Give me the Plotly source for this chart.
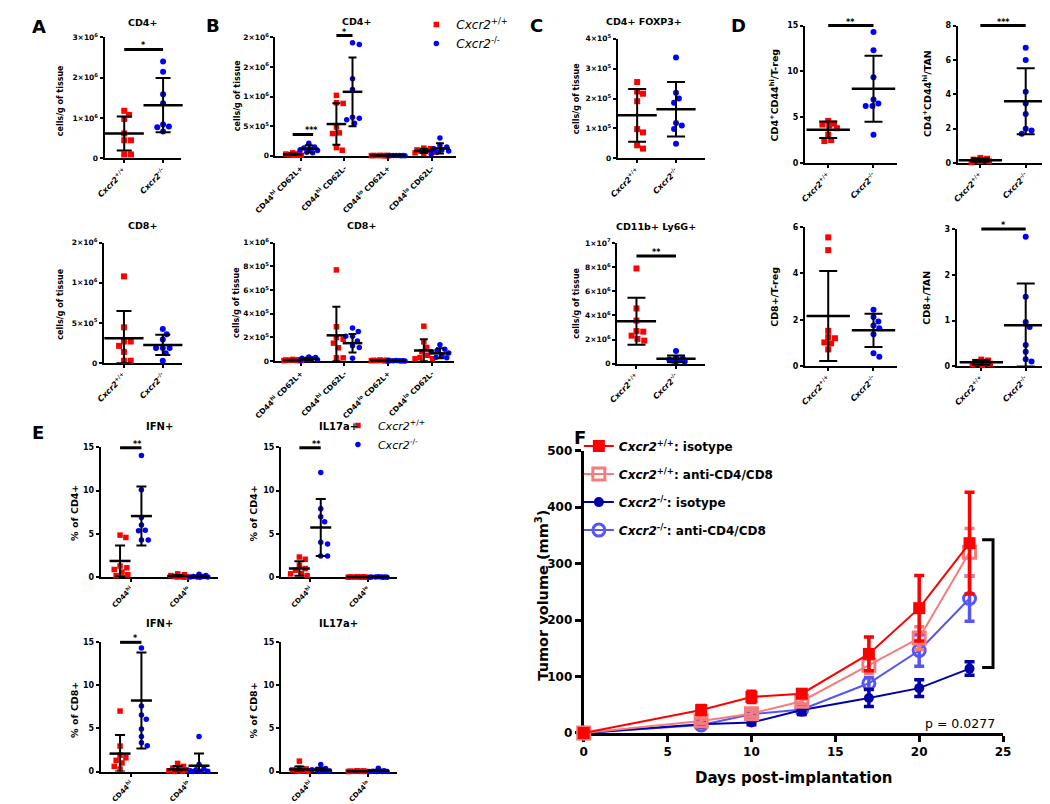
import plotly.graph_objects as go

# ======================= DATA =======================
GENOTYPES = ["<i>Cxcr2</i><sup>+/+</sup>", "<i>Cxcr2</i><sup>-/-</sup>"]
B_SUBSETS = ["CD44<sup>hi</sup> CD62L+", "CD44<sup>hi</sup> CD62L-",
             "CD44<sup>lo</sup> CD62L+", "CD44<sup>lo</sup> CD62L-"]
E_SUBSETS = ["CD44<sup>hi</sup>", "CD44<sup>lo</sup>"]

# Panel A (cells/g of tissue)
A_CD4_WT = [1.18, 1.08, 0.98, 0.62, 0.45, 0.45, 0.10, 0.10]      # x10^6
A_CD4_KO = [2.40, 2.15, 1.59, 1.37, 0.84, 0.79, 0.77, 0.67]
A_CD4_MEAN = [0.62, 1.32]
A_CD4_SD = [0.42, 0.67]
A_CD4_YT = [0, 1, 2, 3]
A_CD4_YL = ["0", "1×10<sup>6</sup>", "2×10<sup>6</sup>", "3×10<sup>6</sup>"]

A_CD8_WT = [10.8, 4.46, 2.69, 2.69, 2.15, 1.40, 0.30, 0.30]       # x10^5
A_CD8_KO = [4.26, 3.60, 2.93, 1.90, 1.90, 1.90, 1.24, 0.30]
A_CD8_MEAN = [3.10, 2.27]
A_CD8_SD = [3.40, 1.25]
A_CD8_YT = [0, 5, 10, 15]
A_CD8_YL = ["0", "5×10<sup>5</sup>", "1×10<sup>6</sup>", "2×10<sup>6</sup>"]

# Panel B (x10^5 cells/g), 4 subsets each
B_CD4_WT = [[0.50, 0.40, 0.30, 0.30, 0.20, 0.10, 0.10, 0.10],
            [10.2, 8.95, 8.84, 4.86, 3.87, 3.76, 1.38, 0.94],
            [0.06, 0.05, 0.05, 0.04, 0.04, 0.03, 0.03, 0.02],
            [1.30, 1.20, 1.00, 0.90, 0.80, 0.60, 0.50, 0.40]]
B_CD4_KO = [[2.10, 1.50, 1.30, 1.20, 1.00, 0.90, 0.60, 0.50],
            [19.06, 18.8, 13.0, 11.2, 6.50, 6.35, 6.10, 5.50],
            [0.05, 0.04, 0.04, 0.03, 0.03, 0.02, 0.02, 0.01],
            [3.00, 1.80, 1.50, 1.20, 1.00, 0.80, 0.60, 0.30]]
B_CD4_WT_MEAN = [0.25, 5.36, 0.04, 0.83]
B_CD4_WT_SD = [0.15, 3.50, 0.02, 0.35]
B_CD4_KO_MEAN = [1.20, 10.8, 0.03, 1.25]
B_CD4_KO_SD = [0.60, 5.80, 0.02, 0.85]
B_CD4_YT = [0, 5, 10, 15, 20]
B_CD4_YL = ["0", "5×10<sup>5</sup>", "1×10<sup>6</sup>", "2×10<sup>6</sup>", "2×10<sup>6</sup>"]

B_CD8_WT = [[0.15, 0.12, 0.10, 0.10, 0.08, 0.06, 0.05, 0.05],
            [7.70, 2.90, 2.00, 1.85, 1.52, 1.13, 0.28, 0.28],
            [0.10, 0.08, 0.07, 0.06, 0.05, 0.05, 0.04, 0.03],
            [2.95, 1.63, 1.16, 0.80, 0.50, 0.30, 0.20, 0.20]]
B_CD8_KO = [[0.35, 0.30, 0.25, 0.20, 0.15, 0.12, 0.10, 0.08],
            [2.80, 2.50, 2.10, 2.10, 1.70, 1.30, 1.16, 0.25],
            [0.05, 0.04, 0.04, 0.03, 0.03, 0.02, 0.02, 0.01],
            [1.38, 1.00, 0.90, 0.80, 0.69, 0.50, 0.33, 0.28]]
B_CD8_WT_MEAN = [0.08, 2.18, 0.06, 0.90]
B_CD8_WT_SD = [0.04, 2.42, 0.03, 0.95]
B_CD8_KO_MEAN = [0.18, 1.52, 0.03, 0.66]
B_CD8_KO_SD = [0.10, 0.78, 0.02, 0.42]
B_CD8_YT = [0, 2, 4, 6, 8, 10]
B_CD8_YL = ["0", "2×10<sup>5</sup>", "4×10<sup>5</sup>", "6×10<sup>5</sup>", "8×10<sup>5</sup>", "1×10<sup>6</sup>"]

# Panel C
C_FOXP3_WT = [2.55, 2.23, 2.16, 1.91, 0.98, 0.87, 0.44, 0.33]     # x10^5
C_FOXP3_KO = [3.37, 2.19, 2.00, 1.86, 1.18, 1.10, 0.98, 0.49]
C_FOXP3_MEAN = [1.44, 1.64]
C_FOXP3_SD = [0.88, 0.91]
C_FOXP3_YT = [0, 1, 2, 3, 4]
C_FOXP3_YL = ["0", "1×10<sup>5</sup>", "2×10<sup>5</sup>", "3×10<sup>5</sup>", "4×10<sup>5</sup>"]

C_LY6G_WT = [7.89, 4.58, 3.58, 2.71, 2.66, 2.33, 2.06, 1.92]      # x10^6
C_LY6G_KO = [1.06, 0.50, 0.45, 0.35, 0.30, 0.25, 0.20, 0.20]
C_LY6G_MEAN = [3.52, 0.41]
C_LY6G_SD = [1.95, 0.27]
C_LY6G_YT = [0, 2, 4, 6, 8, 10]
C_LY6G_YL = ["0", "2×10<sup>6</sup>", "4×10<sup>6</sup>", "6×10<sup>6</sup>", "8×10<sup>6</sup>", "1×10<sup>7</sup>"]

# Panel D (ratios)
D_TL_WT = [4.60, 4.30, 4.20, 4.10, 3.80, 3.10, 2.50, 2.40]
D_TL_KO = [14.3, 12.3, 9.36, 6.93, 6.50, 6.21, 6.21, 3.10]
D_TL_MEAN = [3.63, 8.10]
D_TL_SD = [0.90, 3.60]
D_TL_YT = [0, 5, 10, 15]

D_TR_WT = [0.30, 0.25, 0.20, 0.18, 0.15, 0.12, 0.10, 0.05]
D_TR_KO = [6.70, 6.00, 4.15, 3.47, 2.86, 2.00, 1.89, 1.71]
D_TR_MEAN = [0.17, 3.60]
D_TR_SD = [0.09, 1.92]
D_TR_YT = [0, 2, 4, 6, 8]

D_BL_WT = [5.55, 5.00, 1.52, 1.25, 1.20, 1.02, 0.98, 0.72]
D_BL_KO = [2.43, 2.12, 1.92, 1.75, 1.63, 1.37, 0.55, 0.40]
D_BL_MEAN = [2.16, 1.54]
D_BL_SD = [1.94, 0.72]
D_BL_YT = [0, 2, 4, 6]

D_BR_WT = [0.15, 0.13, 0.10, 0.09, 0.08, 0.06, 0.05, 0.03]
D_BR_KO = [2.83, 1.52, 0.97, 0.86, 0.47, 0.32, 0.16, 0.11]
D_BR_MEAN = [0.09, 0.90]
D_BR_SD = [0.05, 0.91]
D_BR_YT = [0, 1, 2, 3]

# Panel E (% of parent), subsets CD44hi / CD44lo
E_YT = [0, 5, 10, 15]
E_TL_WT = [[4.87, 4.60, 1.30, 1.10, 0.90, 0.60, 0.30, 0.20],
           [0.40, 0.30, 0.20, 0.10, 0.10, 0.05, 0.05, 0.02]]
E_TL_KO = [[14.06, 10.1, 6.90, 6.05, 5.44, 5.37, 4.30, 4.30],
           [0.35, 0.20, 0.10, 0.10, 0.05, 0.05, 0.03, 0.02]]
E_TL_WT_MEAN = [1.89, 0.15]
E_TL_WT_SD = [1.77, 0.12]
E_TL_KO_MEAN = [7.07, 0.11]
E_TL_KO_SD = [3.40, 0.10]

E_TR_WT = [[2.34, 2.08, 1.40, 1.02, 0.83, 0.45, 0.40, 0.20],
           [0.06, 0.05, 0.04, 0.03, 0.03, 0.02, 0.02, 0.01]]
E_TR_KO = [[12.1, 7.90, 7.00, 6.40, 4.04, 3.85, 2.46, 2.46],
           [0.06, 0.05, 0.04, 0.03, 0.03, 0.02, 0.02, 0.01]]
E_TR_WT_MEAN = [1.02, 0.03]
E_TR_WT_SD = [0.83, 0.02]
E_TR_KO_MEAN = [5.75, 0.03]
E_TR_KO_SD = [3.28, 0.02]

E_BL_WT = [[7.00, 2.95, 1.90, 1.60, 1.30, 1.00, 0.60, 0.30],
           [0.95, 0.60, 0.40, 0.30, 0.20, 0.10, 0.05, 0.02]]
E_BL_KO = [[14.3, 7.60, 6.55, 6.06, 4.92, 4.05, 3.33, 3.00],
           [4.05, 0.83, 0.30, 0.20, 0.10, 0.05, 0.03, 0.02]]
E_BL_WT_MEAN = [2.08, 0.25]
E_BL_WT_SD = [2.16, 0.40]
E_BL_KO_MEAN = [8.22, 0.68]
E_BL_KO_SD = [5.55, 1.40]

E_BR_WT = [[1.21, 0.40, 0.30, 0.20, 0.15, 0.10, 0.05, 0.02],
           [0.10, 0.08, 0.05, 0.05, 0.03, 0.02, 0.02, 0.01]]
E_BR_KO = [[0.83, 0.35, 0.25, 0.20, 0.10, 0.08, 0.05, 0.02],
           [0.38, 0.10, 0.05, 0.03, 0.02, 0.02, 0.01, 0.01]]
E_BR_WT_MEAN = [0.25, 0.04]
E_BR_WT_SD = [0.35, 0.03]
E_BR_KO_MEAN = [0.20, 0.08]
E_BR_KO_SD = [0.25, 0.12]

# Panel F (tumor volume, mm^3)
F_DAYS = [0, 7, 10, 13, 17, 20, 23]
F_WT_ISO = [0, 40.6, 63.8, 69.6, 140, 221, 336]
F_WT_ISO_ERR = [0, 8, 10, 6, 30, 58, 90]
F_WT_ANTI = [0, 21.4, 34.2, 56.2, 120, 168, 320]
F_WT_ANTI_ERR = [0, 5, 6, 5, 15, 20, 42]
F_KO_ISO = [0, 15.6, 18.5, 40.6, 62, 79.4, 114]
F_KO_ISO_ERR = [0, 4, 4, 8, 15, 15, 12]
F_KO_ANTI = [0, 14, 33, 41.7, 88, 146, 238]
F_KO_ANTI_ERR = [0, 4, 5, 5, 10, 28, 40]
F_NAMES = ["<i>Cxcr2</i><sup>+/+</sup>: isotype", "<i>Cxcr2</i><sup>+/+</sup>: anti-CD4/CD8",
           "<i>Cxcr2</i><sup>-/-</sup>: isotype", "<i>Cxcr2</i><sup>-/-</sup>: anti-CD4/CD8"]
F_XT = [0, 5, 10, 15, 20, 25]
F_YT = [0, 100, 200, 300, 400, 500]

# ======================= STYLE / LAYOUT =======================
W, H = 1050, 804
FONT = "DejaVu Sans, Verdana, sans-serif"
RED, BLUE = "#FF0000", "#0000FF"
F_COLORS = ["#FF0000", "#F47C7C", "#0000A8", "#5656F4"]
F_SYMBOLS = ["square", "square-open", "circle", "circle-open"]

fig = go.Figure()
L = dict(width=W, height=H, margin=dict(l=0, r=0, t=0, b=0),
         paper_bgcolor="white", plot_bgcolor="white", showlegend=True)
ANN, SHP = [], []
state = {"n": 0}


def bfont(size, **kw):
    d = dict(family=FONT, size=size, color="black", weight="bold")
    d.update(kw)
    return d


def axes(box, xrange, yrange, xtv, xtt, ytv, ytt, xfs=8, yfs=7.5, lw=2, tl=3, xangle=-45):
    state["n"] += 1
    n = state["n"]
    s = "" if n == 1 else str(n)
    xl, xr, yt, yb = box
    common = dict(showline=True, linecolor="black", linewidth=lw, ticks="outside",
                  ticklen=tl, tickwidth=lw, tickcolor="black", showgrid=False,
                  zeroline=False, fixedrange=True, layer="below traces", tickmode="array")
    L["xaxis" + s] = dict(domain=[xl / W, xr / W], range=xrange, anchor="y" + s,
                          tickvals=xtv, ticktext=xtt, tickangle=xangle, tickfont=bfont(xfs), **common)
    L["yaxis" + s] = dict(domain=[1 - yb / H, 1 - yt / H], range=yrange, anchor="x" + s,
                          tickvals=ytv, ticktext=ytt, tickfont=bfont(yfs), **common)
    return dict(xa="x" + s, ya="y" + s, xr=xrange, yr=yrange,
                kx=(xr - xl) / (xrange[1] - xrange[0]), ky=(yb - yt) / (yrange[1] - yrange[0]))


def cat_range(xl, xr, c0, unit):
    return [(xl - c0) / unit, (xr - c0) / unit]


def swarm(vals, ky, d=6.3, cap=9):
    order = sorted(range(len(vals)), key=lambda i: -vals[i])
    cands = sorted(range(-cap, cap + 1), key=lambda c: (abs(c), c < 0))
    placed, out = [], [0.0] * len(vals)
    for i in order:
        y = vals[i] * ky
        best, bestd = 0, -1.0
        for c in cands:
            md = min((((c - px) ** 2 + (y - py) ** 2) ** 0.5 for px, py in placed), default=1e9)
            if md >= d:
                best = c
                break
            if md > bestd:
                best, bestd = c, md
        placed.append((best, y))
        out[i] = best
    return out


def dot_panel(ax, wt_pos, ko_pos, wt_data, ko_data, wt_mean, wt_sd, ko_mean, ko_sd,
              msize=6, meanw=28, capw=7, legend=None):
    for pos, data, col, sym, name in ((wt_pos, wt_data, RED, "square", GENOTYPES[0]),
                                      (ko_pos, ko_data, BLUE, "circle", GENOTYPES[1])):
        xs, ys = [], []
        for p, vals in zip(pos, data):
            offs = swarm(vals, ax["ky"])
            xs += [p + o / ax["kx"] for o in offs]
            ys += list(vals)
        fig.add_trace(go.Scatter(x=xs, y=ys, mode="markers", name=name,
                                 marker=dict(symbol=sym, size=msize, color=col, line=dict(width=0)),
                                 xaxis=ax["xa"], yaxis=ax["ya"], cliponaxis=False,
                                 showlegend=legend is not None, legend=legend or "legend",
                                 hoverinfo="skip"))
    for pos, mean, sd in ((wt_pos, wt_mean, wt_sd), (ko_pos, ko_mean, ko_sd)):
        fig.add_trace(go.Scatter(x=pos, y=mean, mode="markers", showlegend=False,
                                 marker=dict(symbol="line-ew", size=meanw, color="black",
                                             line=dict(color="black", width=2.5)),
                                 error_y=dict(type="data", array=sd,
                                              arrayminus=[min(s, m) for s, m in zip(sd, mean)],
                                              color="black", thickness=2, width=capw),
                                 xaxis=ax["xa"], yaxis=ax["ya"], cliponaxis=False, hoverinfo="skip"))


def sig(ax, x0, x1, y, text, size=8):
    fx0 = (x0 - ax["xr"][0]) / (ax["xr"][1] - ax["xr"][0])
    fx1 = (x1 - ax["xr"][0]) / (ax["xr"][1] - ax["xr"][0])
    fy = (y - ax["yr"][0]) / (ax["yr"][1] - ax["yr"][0])
    xref, yref = ax["xa"] + " domain", ax["ya"] + " domain"
    SHP.append(dict(type="line", xref=xref, yref=yref, x0=fx0, x1=fx1, y0=fy, y1=fy,
                    line=dict(color="black", width=3)))
    ANN.append(dict(xref=xref, yref=yref, x=(fx0 + fx1) / 2, y=fy, text=text, showarrow=False,
                    yanchor="bottom", yshift=-3, font=bfont(size)))


def text(px, py, t, size, angle=0, **kw):
    ANN.append(dict(xref="paper", yref="paper", x=px / W, y=1 - py / H, text=t, showarrow=False,
                    textangle=angle, xanchor="center", yanchor="middle", font=bfont(size, **kw)))


def ystr(ticks):
    return [str(t) for t in ticks]


# ---------- Panel A ----------
ax = axes((76.7, 155, 22.7, 146), cat_range(76.7, 155, 97, 40), [0, 3],
          [0, 1], GENOTYPES, A_CD4_YT, A_CD4_YL)
dot_panel(ax, [0], [1], [A_CD4_WT], [A_CD4_KO], [A_CD4_MEAN[0]], [A_CD4_SD[0]],
          [A_CD4_MEAN[1]], [A_CD4_SD[1]], meanw=28, capw=7.5)
sig(ax, 0, 1, 2.7, "*")

ax = axes((76, 156.7, 231.7, 354.3), cat_range(76, 156.7, 96.7, 40), [0, 15],
          [0, 1], GENOTYPES, A_CD8_YT, A_CD8_YL)
dot_panel(ax, [0], [1], [A_CD8_WT], [A_CD8_KO], [A_CD8_MEAN[0]], [A_CD8_SD[0]],
          [A_CD8_MEAN[1]], [A_CD8_SD[1]], meanw=28, capw=7.5)

# ---------- Panel B ----------
BOFF = 8.3 / 45
B_WT_POS = [i - BOFF for i in range(4)]
B_KO_POS = [i + BOFF for i in range(4)]
ax = axes((252.7, 438.3, 22.7, 143.3), cat_range(252.7, 438.3, 278.7, 45), [0, 20],
          list(range(4)), B_SUBSETS, B_CD4_YT, B_CD4_YL, xfs=7.5)
dot_panel(ax, B_WT_POS, B_KO_POS, B_CD4_WT, B_CD4_KO, B_CD4_WT_MEAN, B_CD4_WT_SD,
          B_CD4_KO_MEAN, B_CD4_KO_SD, msize=5.5, meanw=14, capw=4, legend="legend")
sig(ax, B_WT_POS[0], B_KO_POS[0] + 0.1, 3.6, "***")
sig(ax, B_WT_POS[1], B_KO_POS[1], 20.3, "*")

ax = axes((252.7, 436.7, 231.7, 352.3), cat_range(252.7, 436.7, 278.7, 45), [0, 10],
          list(range(4)), B_SUBSETS, B_CD8_YT, B_CD8_YL, xfs=7.5)
dot_panel(ax, B_WT_POS, B_KO_POS, B_CD8_WT, B_CD8_KO, B_CD8_WT_MEAN, B_CD8_WT_SD,
          B_CD8_KO_MEAN, B_CD8_KO_SD, msize=5.5, meanw=14, capw=4)

# ---------- Panel C ----------
ax = axes((605, 695, 24, 146), cat_range(605, 695, 625, 40), [0, 4],
          [0, 1], GENOTYPES, C_FOXP3_YT, C_FOXP3_YL)
dot_panel(ax, [0], [1], [C_FOXP3_WT], [C_FOXP3_KO], [C_FOXP3_MEAN[0]], [C_FOXP3_SD[0]],
          [C_FOXP3_MEAN[1]], [C_FOXP3_SD[1]], meanw=28, capw=9)

ax = axes((604.3, 695, 232, 355), cat_range(604.3, 695, 624.3, 40.7), [0, 10],
          [0, 1], GENOTYPES, C_LY6G_YT, C_LY6G_YL)
dot_panel(ax, [0], [1], [C_LY6G_WT], [C_LY6G_KO], [C_LY6G_MEAN[0]], [C_LY6G_SD[0]],
          [C_LY6G_MEAN[1]], [C_LY6G_SD[1]], meanw=28, capw=9)
sig(ax, 0, 1, 8.92, "**")

# ---------- Panel D ----------
ax = axes((797.7, 892, 10.7, 150.7), cat_range(797.7, 892, 821.7, 46.6), [0, 15],
          [0, 1], GENOTYPES, D_TL_YT, ystr(D_TL_YT), yfs=8)
dot_panel(ax, [0], [1], [D_TL_WT], [D_TL_KO], [D_TL_MEAN[0]], [D_TL_SD[0]],
          [D_TL_MEAN[1]], [D_TL_SD[1]], meanw=31, capw=9)
sig(ax, 0, 1, 15, "**")

ax = axes((955, 1049, 10.7, 150.7), cat_range(955, 1049, 978.3, 46.7), [0, 8],
          [0, 1], GENOTYPES, D_TR_YT, ystr(D_TR_YT), yfs=8)
dot_panel(ax, [0], [1], [D_TR_WT], [D_TR_KO], [D_TR_MEAN[0]], [D_TR_SD[0]],
          [D_TR_MEAN[1]], [D_TR_SD[1]], meanw=31, capw=9)
sig(ax, 0, 1, 8, "***")

ax = axes((797.7, 892, 215.7, 357.3), cat_range(797.7, 892, 821.7, 46.6), [0, 6],
          [0, 1], GENOTYPES, D_BL_YT, ystr(D_BL_YT), yfs=8)
dot_panel(ax, [0], [1], [D_BL_WT], [D_BL_KO], [D_BL_MEAN[0]], [D_BL_SD[0]],
          [D_BL_MEAN[1]], [D_BL_SD[1]], meanw=31, capw=9)

ax = axes((954, 1049, 217.7, 357.7), cat_range(954, 1049, 979.3, 45.7), [0, 3],
          [0, 1], GENOTYPES, D_BR_YT, ystr(D_BR_YT), yfs=8)
dot_panel(ax, [0], [1], [D_BR_WT], [D_BR_KO], [D_BR_MEAN[0]], [D_BR_SD[0]],
          [D_BR_MEAN[1]], [D_BR_SD[1]], meanw=31, capw=9)
sig(ax, 0, 1, 3, "*")

# ---------- Panel E ----------
EOFF = 11 / 59.3
E_WT_POS = [i - EOFF for i in range(2)]
E_KO_POS = [i + EOFF for i in range(2)]
E_SPECS = [
    ((72.7, 193.3, 440, 572.3), 103.7, E_TL_WT, E_TL_KO, E_TL_WT_MEAN, E_TL_WT_SD, E_TL_KO_MEAN, E_TL_KO_SD, "**", "legend2"),
    ((258.3, 378, 440, 572.3), 288.3, E_TR_WT, E_TR_KO, E_TR_WT_MEAN, E_TR_WT_SD, E_TR_KO_MEAN, E_TR_KO_SD, "**", None),
    ((72.7, 193.3, 638, 770), 103.7, E_BL_WT, E_BL_KO, E_BL_WT_MEAN, E_BL_WT_SD, E_BL_KO_MEAN, E_BL_KO_SD, "*", None),
    ((258.3, 378, 638, 770), 288.3, E_BR_WT, E_BR_KO, E_BR_WT_MEAN, E_BR_WT_SD, E_BR_KO_MEAN, E_BR_KO_SD, None, None),
]
for box, c0, wt, ko, wm, ws, km, ks, st, leg in E_SPECS:
    ax = axes(box, cat_range(box[0], box[1], c0, 59.3), [0, 15], [0, 1], E_SUBSETS,
              E_YT, ystr(E_YT), xfs=7, yfs=8)
    dot_panel(ax, E_WT_POS, E_KO_POS, wt, ko, wm, ws, km, ks, msize=5.5, meanw=15, capw=5, legend=leg)
    if st:
        sig(ax, E_WT_POS[0], E_KO_POS[0], 14.95, st)

# ---------- Panel F ----------
ax = axes((570, 1001.7, 443.3, 730.7), [0, 25], [0, 500], F_XT, ystr(F_XT), F_YT, ystr(F_YT),
          xfs=12, yfs=12, lw=3, tl=6, xangle=0)
F_SERIES = [(F_WT_ISO, F_WT_ISO_ERR), (F_WT_ANTI, F_WT_ANTI_ERR),
            (F_KO_ISO, F_KO_ISO_ERR), (F_KO_ANTI, F_KO_ANTI_ERR)]
for k in (3, 2, 1, 0):
    vals, err = F_SERIES[k]
    fig.add_trace(go.Scatter(
        x=F_DAYS, y=vals, mode="lines+markers", name=F_NAMES[k], legend="legend3",
        legendgroup="f%d" % k, legendrank=k + 1,
        line=dict(color=F_COLORS[k], width=2),
        marker=dict(symbol=F_SYMBOLS[k], size=12 if k != 2 else 10, color=F_COLORS[k],
                    line=dict(color=F_COLORS[k], width=3 if "open" in F_SYMBOLS[k] else 0)),
        error_y=dict(type="data", array=err, color=F_COLORS[k], thickness=3.5, width=5),
        xaxis=ax["xa"], yaxis=ax["ya"], cliponaxis=False, hoverinfo="skip"))
# significance bracket between Cxcr2+/+ isotype and Cxcr2-/- isotype at day 23
top, bot = F_WT_ISO[-1] + 6, F_KO_ISO[-1] + 2
SHP.append(dict(type="path", xref=ax["xa"], yref=ax["ya"],
                path="M 23.75 %f L 24.4 %f L 24.4 %f L 23.75 %f" % (top, top, bot, bot),
                line=dict(color="black", width=3)))
ANN.append(dict(xref=ax["xa"], yref=ax["ya"], x=25.45, y=(top + bot) / 2, text="***",
                showarrow=False, font=bfont(11, weight="normal")))
ANN.append(dict(xref=ax["xa"], yref=ax["ya"], x=22.45, y=17, text="p = 0.0277",
                showarrow=False, font=dict(family=FONT, size=12.5, color="black")))

# ---------- text: titles, axis titles, panel letters ----------
for px, py, t in ((115.5, 8, "CD4+"), (115.8, 214.7, "CD8+"), (335.8, 7, "CD4+"),
                  (340.8, 214, "CD8+"), (632.5, 7, "CD4+ FOXP3+"), (644, 215, "CD11b+ Ly6G+")):
    text(px, py, t, 9.5)
for px, py, t in ((133.3, 419.3, "IFN+"), (317.5, 419.3, "IL17a+"),
                  (133.3, 619, "IFN+"), (317.5, 619, "IL17a+")):
    text(px, py, t, 10)
for px, py in ((31.7, 87), (31.7, 294), (213.3, 82.5), (213.3, 293), (562.7, 85), (562.7, 293.3)):
    text(px, py, "cells/g of tissue", 8, angle=-90)
for px, py, t in ((765.7, 81, "CD4<sup>+</sup>CD44<sup>hi</sup>/T-reg"),
                  (922.7, 80, "CD4<sup>+</sup>CD44<sup>hi</sup>/TAN"),
                  (765.7, 287, "CD8+/T-reg"), (922.7, 287.5, "CD8+/TAN")):
    text(px, py, t, 9.5, angle=-90)
for px, py, t in ((45, 507, "% of CD4+"), (230, 507, "% of CD4+"),
                  (45, 707.5, "% of CD8+"), (230, 707.5, "% of CD8+")):
    text(px, py, t, 9.5, angle=-90)
text(527, 590, "Tumor volume (mm<sup>3</sup>)", 14.5, angle=-90)
text(786, 777, "Days post-implantation", 15)
for px, py, t in ((9, 12, "A"), (188, 11, "B"), (521, 11, "C"), (729, 11, "D"),
                  (8, 425, "E"), (566, 430, "F")):
    text(px, py, t, 18)

L["legend"] = dict(x=(436.7 - 39) / W, y=1 + 5 / H, xanchor="left", yanchor="top",
                   bgcolor="rgba(0,0,0,0)", itemwidth=30,
                   font=dict(family=FONT, size=12, color="black"))
L["legend2"] = dict(x=(357 - 40) / W, y=1 - 403 / H, xanchor="left", yanchor="top",
                    bgcolor="rgba(0,0,0,0)", itemwidth=30,
                    font=dict(family=FONT, size=11, color="black"))
L["legend3"] = dict(x=(597 - 32) / W, y=1 - 424 / H, xanchor="left", yanchor="top",
                    bgcolor="rgba(0,0,0,0)", itemwidth=30, traceorder="grouped",
                    tracegroupgap=9, font=bfont(12))
L["annotations"] = ANN
L["shapes"] = SHP
fig.update_layout(**L)
fig.write_html("out.html")
